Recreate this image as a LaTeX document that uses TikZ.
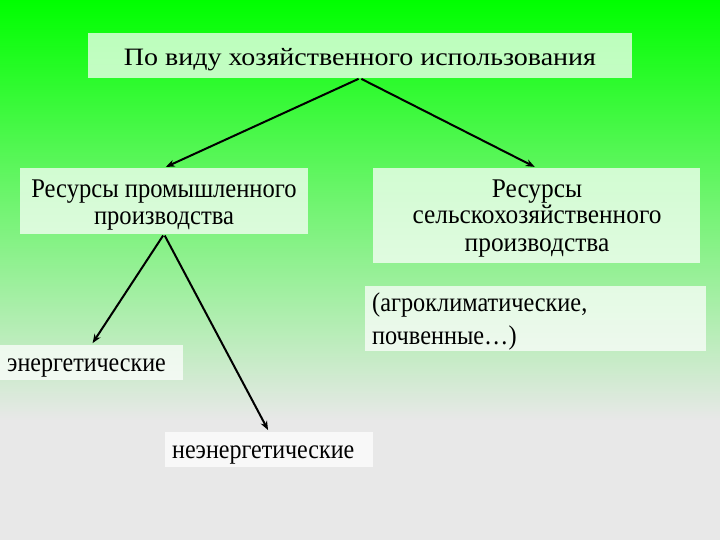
\documentclass[tikz,border=0pt]{standalone}
\usepackage{fontspec}
\usepackage{graphicx}
\setmainfont{Liberation Serif}
\newfontfamily\tnr{Liberation Serif}
\usetikzlibrary{arrows.meta}
\definecolor{bggreen}{HTML}{00FF00}
\definecolor{bggrey}{HTML}{E8E8E8}
\newcommand{\hsq}[2]{\scalebox{#1}[1]{#2}}
\tikzset{
  box/.style={fill=white, fill opacity=0.72, inner sep=0pt},
  lbl/.style={inner sep=0pt, anchor=base, font=\tnr\fontsize{27}{27}\selectfont},
  lbll/.style={lbl, anchor=base west},
  conn/.style={draw=black, line width=2pt, shorten <=1.5pt, shorten >=2pt, -{Stealth[length=9pt,width=7pt]}}
}
\begin{document}
\begin{tikzpicture}[x=1pt,y=-1pt]
\useasboundingbox (0,0) rectangle (720,540);
\shade[top color=bggreen, bottom color=bggrey] (0,0) rectangle (720,420);
\fill[bggrey] (0,419.5) rectangle (720,540);
% boxes
\node[box, minimum width=544pt, minimum height=45pt] (b1) at (360,55.5) {};
\node[box, minimum width=288pt, minimum height=66pt] (b2) at (164,201) {};
\node[box, minimum width=327pt, minimum height=95pt] (b3) at (536.5,215.5) {};
\node[box, minimum width=341pt, minimum height=65pt] (b4) at (535.5,318.5) {};
\node[box, minimum width=183pt, minimum height=35pt] (b5) at (91.5,362.5) {};
\node[box, minimum width=208pt, minimum height=35pt] (b6) at (269,449.5) {};
% texts
\node[lbl, font=\tnr\fontsize{25}{25}\selectfont] (t1) at (360,66) {\hsq{1.12}{По виду хозяйственного использования}};
\node[lbl] (t2a) at (164,198) {\hsq{0.91}{Ресурсы промышленного}};
\node[lbl] (t2b) at (164,225) {\hsq{0.91}{производства}};
\node[lbl] (t3a) at (537,197) {\hsq{0.94}{Ресурсы}};
\node[lbl] (t3b) at (537,224) {\hsq{0.94}{сельскохозяйственного}};
\node[lbl] (t3c) at (537,251.5) {\hsq{0.94}{производства}};
\node[lbll] (t4a) at (372,311) {\hsq{0.9}{(агроклиматические,}};
\node[lbll] (t4b) at (372,344) {\hsq{0.9}{почвенные…)}};
\node[lbll] (t5) at (7,371) {\hsq{0.89}{энергетические}};
\node[lbll] (t6) at (172,458) {\hsq{0.89}{неэнергетические}};
% connectors
\draw[conn] (b1.south) -- (b2.north);
\draw[conn] (b1.south) -- (b3.north);
\draw[conn] (b2.south) -- (b5.north);
\draw[conn] (b2.south) -- (b6.north);
\end{tikzpicture}
\end{document}
